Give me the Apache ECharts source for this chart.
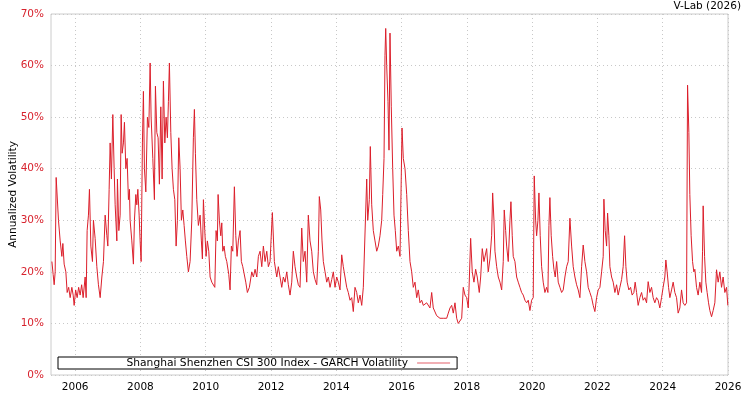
<!DOCTYPE html>
<html>
<head>
<meta charset="utf-8">
<script src="https://cdn.jsdelivr.net/npm/echarts@6/dist/echarts.min.js"></script>
<style>html,body{margin:0;padding:0;background:#fff}#c{width:750px;height:400px}</style>
</head>
<body>
<div id="c"></div>
<script>
// Dates as decimal years, values in % annualized volatility
const years = [
2005.287,2005.326,2005.357,2005.388,2005.418,2005.489,2005.541,2005.593,2005.623,2005.663,2005.715,2005.755,2005.801,2005.847,2005.899,2005.939,2005.969,
2006.015,2006.061,2006.107,2006.153,2006.199,2006.245,2006.306,2006.337,2006.367,2006.407,2006.438,2006.481,2006.530,2006.560,2006.612,2006.664,2006.713,2006.766,2006.818,2006.867,2006.919,2006.971,
2007.001,2007.041,2007.072,2007.111,2007.154,2007.194,2007.225,2007.277,2007.295,2007.338,2007.378,2007.409,2007.439,2007.479,2007.510,2007.552,2007.592,2007.632,2007.663,2007.684,2007.736,2007.785,2007.816,2007.859,2007.889,2007.920,2007.960,2007.990,
2008.021,2008.061,2008.091,2008.122,2008.165,2008.214,2008.257,2008.297,2008.327,2008.379,2008.428,2008.459,2008.502,2008.541,2008.581,2008.624,2008.664,2008.704,2008.747,2008.786,2008.826,2008.857,2008.887,2008.930,2008.970,
2009.010,2009.053,2009.093,2009.132,2009.175,2009.215,2009.255,2009.298,2009.338,2009.377,2009.420,2009.469,2009.521,2009.573,2009.622,2009.653,2009.684,2009.726,2009.775,2009.828,2009.867,2009.898,2009.929,2009.971,
2010.011,2010.051,2010.094,2010.134,2010.186,2010.235,2010.278,2010.317,2010.357,2010.379,2010.418,2010.461,2010.492,2010.523,2010.562,2010.602,2010.645,2010.706,2010.746,2010.786,2010.829,2010.878,2010.921,2010.960,
2011.000,2011.052,2011.092,2011.135,2011.184,2011.227,2011.276,2011.337,2011.411,2011.460,2011.512,2011.564,2011.613,2011.665,2011.717,2011.766,2011.818,2011.870,2011.919,2011.971,
2012.041,2012.103,2012.176,2012.225,2012.277,2012.329,2012.378,2012.430,2012.482,2012.531,2012.583,2012.635,2012.684,2012.736,2012.788,2012.837,2012.889,2012.941,2012.990,
2013.042,2013.094,2013.143,2013.195,2013.247,2013.297,2013.349,2013.401,2013.450,2013.480,2013.523,2013.563,2013.603,2013.655,2013.707,2013.756,2013.808,2013.860,2013.909,2013.961,
2014.013,2014.062,2014.114,2014.166,2014.215,2014.267,2014.319,2014.368,2014.420,2014.472,2014.521,2014.573,2014.625,2014.674,2014.727,2014.779,2014.828,2014.880,2014.932,2014.963,
2015.012,2015.042,2015.085,2015.134,2015.186,2015.238,2015.287,2015.339,2015.391,2015.422,2015.462,2015.492,2015.514,2015.544,2015.584,2015.615,2015.645,2015.685,2015.728,2015.768,2015.808,2015.851,2015.900,2015.952,2015.982,
2016.013,2016.053,2016.105,2016.157,2016.206,2016.258,2016.310,2016.359,2016.411,2016.463,2016.512,2016.564,2016.616,2016.665,2016.769,2016.870,2016.922,2016.971,
2017.075,2017.176,2017.277,2017.382,2017.431,2017.483,2017.535,2017.584,2017.636,2017.688,2017.737,2017.789,2017.841,2017.890,2017.942,2017.994,
2018.043,2018.073,2018.116,2018.165,2018.217,2018.269,2018.318,2018.380,2018.423,2018.472,2018.524,2018.606,2018.655,2018.707,2018.759,2018.790,2018.830,2018.861,2018.913,2018.962,
2019.014,2019.066,2019.115,2019.145,2019.188,2019.219,2019.268,2019.320,2019.350,2019.390,2019.421,2019.473,2019.525,2019.574,2019.626,2019.678,2019.727,2019.779,2019.831,2019.880,2019.932,2019.984,
2020.033,2020.064,2020.107,2020.137,2020.177,2020.208,2020.247,2020.290,2020.339,2020.391,2020.443,2020.483,2020.514,2020.544,2020.584,2020.627,2020.667,2020.707,2020.750,2020.799,2020.851,2020.903,2020.952,
2021.004,2021.056,2021.105,2021.157,2021.209,2021.258,2021.310,2021.362,2021.411,2021.463,2021.515,2021.564,2021.616,2021.668,2021.717,2021.769,2021.821,2021.870,2021.922,2021.974,
2022.023,2022.076,2022.128,2022.177,2022.198,2022.238,2022.281,2022.311,2022.351,2022.382,2022.434,2022.483,2022.535,2022.587,2022.636,2022.688,2022.740,2022.789,2022.832,2022.872,2022.911,2022.963,
2023.015,2023.064,2023.116,2023.156,2023.199,2023.248,2023.300,2023.352,2023.401,2023.453,2023.505,2023.554,2023.606,2023.658,2023.707,2023.759,2023.811,2023.860,2023.912,2023.964,
2024.013,2024.065,2024.096,2024.136,2024.179,2024.219,2024.271,2024.320,2024.372,2024.424,2024.473,2024.525,2024.577,2024.626,2024.678,2024.730,2024.761,2024.801,2024.831,2024.871,2024.914,2024.953,2024.984,
2025.036,2025.085,2025.138,2025.190,2025.220,2025.239,2025.282,2025.321,2025.361,2025.404,2025.444,2025.496,2025.545,2025.597,2025.649,2025.698,2025.750,2025.802,2025.851,2025.903,2025.955,2025.995
];
const vol = [
22,19.5,17.5,20,38.3,30,26,23,25.5,21.5,20,16,17,15,17,15.5,13.5,
16.5,15,17,15.5,17.5,15,19,15,28,31,36,25,22,30,26.5,21,17.5,15,19,22,31,27,
25,36,45,38,50.5,40,33,26,38,28,31,50.5,43,45,49,40,42,34,36,30,26,21.5,30,35,33,36,31,26,
22,45,55,40,35.5,50,48,60.5,50,42,34,56,47,46,37,52,38,57,45,50,46,53,60.5,47,40,
36,34,25,30,46,40,30,32,29,26,23,20,22,30,46,51.5,43,34,29,31,26,22.5,34,28,
23,26,24,19,18,18,17,28,26,35,30,27,29.5,24,25,23,22,19.5,16.5,25,24,36.5,27,23,
26,28,22,21,21,18,16,17,20,19,20.5,19,23,24,21,25,22,24,21,22,
31.5,22,19,21,19,17,19,18,20,17.5,15.5,18,24,21,19,17.5,17,28.5,22,
24,18,31,26,24,20,18.5,17.5,24,34.6,32,26,22,20,18,19,17,18.5,20,17,
19,18,16.5,23.3,21,19,17,16,14.5,15,12.3,17,16,14,15.5,13.5,17,17,38,30,
34,44.3,33,28,26,24,25,27,30,35,42,62,67.2,60,53,43.6,66.3,52,40,31,28,24,25,23,35,
47.9,42,40,35,28,22,20,17,18,15,16.5,14,14.5,13.5,14,13,16,13,
11.5,11,11,11,12,13,13.5,12,14,11,10,10.2,11,17,15.5,15,
13,18,26.5,20,18,20.5,19,16,19,24.5,22,24.5,20,22.5,27,35.3,30,24,21,19,
18,16.5,22,32,28,25,22,30,33.6,27,23,22,19,18,17,16,15.5,14.5,14,14.5,12.5,14.5,
15,38.6,30,27,30,35.3,27,21,18,16,17,16,29,34.4,27,23,20.5,19,22,18,17,16,16.5,
19,21,22,30.4,25,21,19,17.5,16.5,15,21,25.2,22,20,17,16,15,13.5,12.3,15,
16.5,17,20,23,34.1,28,25,31.4,27,21,19,18,16,17.5,15.5,17,18.5,21,27,21,18,16.5,
17,15.5,16,18,16,13.5,15,16,14.5,15,14,18.1,16,17,15,14,15,14.5,13,15,
17,19,22.3,20,17,15,16.5,18,16,15,12,13,16.5,14,13.5,14,56.2,47,35,27,22,20,20.5,
17,15.5,18,16,24,32.8,23,18,16,14,12.5,11.3,12.5,14,20.4,18,20,17,19,16,17,13.5
];
const yearTicks = [2006,2008,2010,2012,2014,2016,2018,2020,2022,2024,2026];
const seriesName = 'Shanghai Shenzhen CSI 300 Index - GARCH Volatility';
const sourceText = 'V-Lab (2026)';

const data = years.map((y, i) => [y, vol[i]]);
const FONT = 'DejaVu Sans';
const RED = '#dc1f2b';
const chart = echarts.init(document.getElementById('c'), null, {renderer: 'canvas'});
chart.setOption({
  animation: false,
  backgroundColor: '#ffffff',
  textStyle: {fontFamily: FONT},
  title: {
    text: sourceText, right: 9, top: 1, padding: 0,
    textStyle: {fontFamily: FONT, fontSize: 10.5, fontWeight: 'normal', color: '#000', lineHeight: 11}
  },
  grid: {left: 51, right: 22, top: 14, bottom: 25, show: true, borderColor: '#cccccc', borderWidth: 1, containLabel: false, outerBoundsMode: 'none'},
  legend: {
    left: 58, top: 357, orient: 'horizontal', align: 'right',
    padding: [0.5, 7, 0.5, 68.5], borderColor: '#000', borderWidth: 1, backgroundColor: '#fff',
    itemWidth: 33, itemHeight: 1, itemGap: 0,
    icon: 'rect',
    itemStyle: {color: '#e4606a', borderWidth: 0},
    textStyle: {fontFamily: FONT, fontSize: 10.7, color: '#000', lineHeight: 11, padding: [0, 4, 0, 0]},
    data: [seriesName]
  },
  xAxis: {
    type: 'value', min: 2005.26, max: 2026,
    axisLine: {show: false},
    axisTick: {show: false, customValues: yearTicks},
    axisLabel: {customValues: yearTicks, showMaxLabel: true, showMinLabel: true, color: '#000', fontFamily: FONT, fontSize: 10.5, margin: 7, formatter: v => String(Math.round(v))},
    splitLine: {show: true, lineStyle: {color: '#c8c8c8', type: [1, 3], width: 1}}
  },
  yAxis: {
    type: 'value', min: 0, max: 70, interval: 10,
    name: 'Annualized Volatility', nameLocation: 'middle', nameGap: 32, nameRotate: 90, nameMoveOverlap: false,
    nameTextStyle: {fontFamily: FONT, fontSize: 10.5, color: '#000'},
    axisLine: {show: false},
    axisTick: {show: false},
    axisLabel: {color: '#d8232e', fontFamily: FONT, fontSize: 10.5, margin: 7, formatter: '{value}%'},
    splitLine: {show: true, lineStyle: {color: '#c8c8c8', type: [1, 3], width: 1}}
  },
  series: [{
    name: seriesName, type: 'line', data: data,
    showSymbol: false, symbol: 'none',
    lineStyle: {color: RED, width: 1},
    itemStyle: {color: RED},
    z: 3
  }]
});
</script>
</body>
</html>
